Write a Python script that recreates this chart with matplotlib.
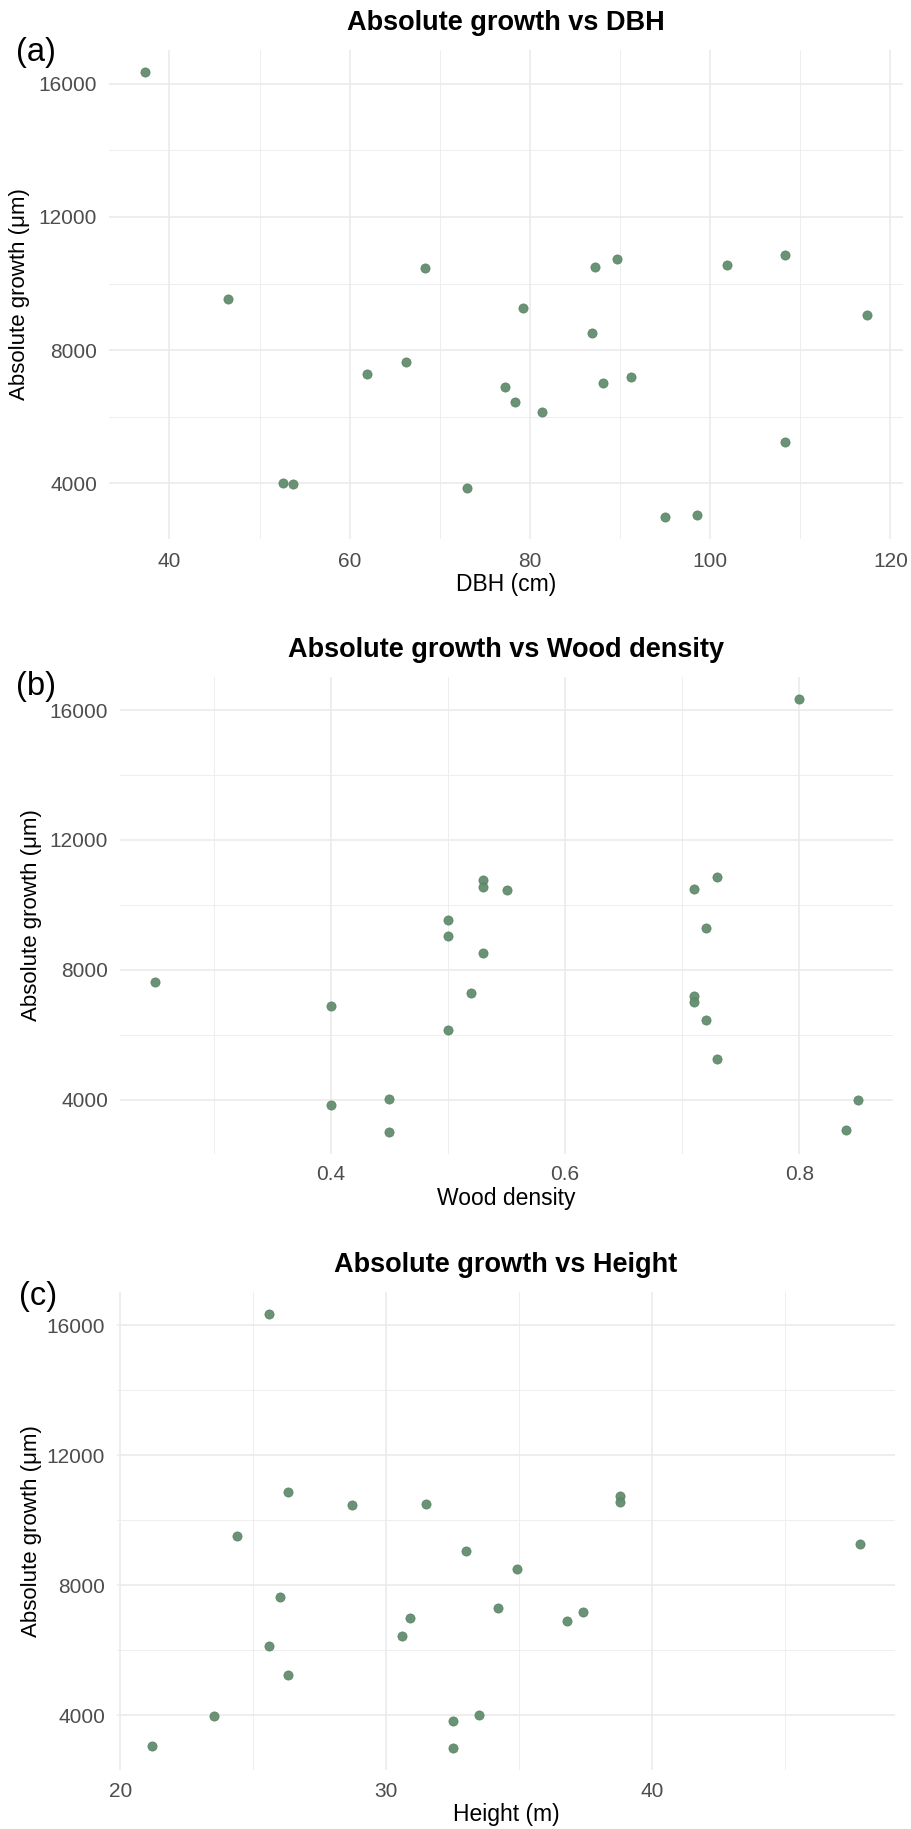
import matplotlib
matplotlib.use("Agg")
import matplotlib.pyplot as plt
from matplotlib.ticker import MultipleLocator

plt.rcParams['font.family'] = ['Liberation Sans', 'DejaVu Sans']

# one entry per tree
growth = [16350, 10860, 10750, 10550, 10500, 10470, 9530, 9270, 9050, 8510, 7630, 7290,
          7190, 7000, 6890, 6440, 6140, 5240, 4020, 3980, 3840, 3050, 2990]
dbh = [37.3, 108.3, 89.7, 101.9, 87.2, 68.4, 46.5, 79.2, 117.4, 86.9, 66.3, 61.9,
       91.2, 88.1, 77.2, 78.3, 81.4, 108.3, 52.6, 53.7, 73.0, 98.6, 95.0]
wood_density = [0.80, 0.73, 0.53, 0.53, 0.71, 0.55, 0.50, 0.72, 0.50, 0.53, 0.25, 0.52,
                0.71, 0.71, 0.40, 0.72, 0.50, 0.73, 0.45, 0.85, 0.40, 0.84, 0.45]
height = [25.6, 26.3, 38.8, 38.8, 31.5, 28.7, 24.4, 47.8, 33.0, 34.9, 26.0, 34.2,
          37.4, 30.9, 36.8, 30.6, 25.6, 26.3, 33.5, 23.5, 32.5, 21.2, 32.5]

W, H = 912, 1829
fig = plt.figure(figsize=(W / 100, H / 100), dpi=100, facecolor="white")

GRID = "#ebebeb"
PT = "#628d6e"


def panel(box, x, xlabel, title, tag, tag_xy, xmaj, xmin, ylab_x, title_y, xlab_y, tick_y):
    l, t, r, b = box
    ax = fig.add_axes([l / W, 1 - b / H, (r - l) / W, (b - t) / H])
    ax.scatter(x, growth, s=44, color=PT, edgecolors="#567f62", linewidths=0.5,
               alpha=0.95, zorder=3)
    pad_x = (max(x) - min(x)) * 0.05
    ax.set_xlim(min(x) - pad_x, max(x) + pad_x)
    pad_y = (max(growth) - min(growth)) * 0.05
    ax.set_ylim(min(growth) - pad_y, max(growth) + pad_y)

    ax.xaxis.set_major_locator(MultipleLocator(xmaj))
    ax.xaxis.set_minor_locator(MultipleLocator(xmin))
    ax.yaxis.set_major_locator(MultipleLocator(4000))
    ax.yaxis.set_minor_locator(MultipleLocator(2000))
    ax.grid(which="major", color=GRID, linewidth=1.2, zorder=0)
    ax.grid(which="minor", color=GRID, linewidth=0.6, zorder=0)
    ax.set_axisbelow(True)
    for s in ax.spines.values():
        s.set_visible(False)
    ax.tick_params(which="both", length=0, labelsize=15, labelcolor="#4d4d4d")
    ax.tick_params(axis="y", pad=8.5)
    ax.tick_params(axis="x", pad=(tick_y - b - 7.5) / 1.389)

    ax.set_xlabel(xlabel, fontsize=16.5, color="black")
    ax.set_ylabel("Absolute growth (\u03bcm)", fontsize=16, color="black")
    ax.xaxis.label.set_va("center")
    ax.yaxis.label.set_va("center")
    ax.xaxis.set_label_coords(0.5, 1 - (xlab_y - t) / (b - t))
    ax.yaxis.set_label_coords((ylab_x - l) / (r - l), 0.5)

    ax.set_title(title, fontsize=19.5, fontweight="bold", va="center", pad=0,
                 y=1 + (t - title_y) / (b - t))
    fig.text(tag_xy[0] / W, 1 - tag_xy[1] / H, tag, fontsize=23.5, ha="left", va="center")
    return ax


panel((109, 50, 903, 539), dbh, "DBH (cm)", "Absolute growth vs DBH", "(a)", (16, 52),
      20, 10, 20, 23, 585, 560)
panel((120, 677, 893, 1154), wood_density, "Wood density", "Absolute growth vs Wood density",
      "(b)", (16, 687), 0.2, 0.1, 32, 650, 1199, 1173)
panel((117, 1292, 895, 1770), height, "Height (m)", "Absolute growth vs Height", "(c)",
      (19, 1297), 10, 5, 31, 1265, 1815, 1790)

fig.savefig("out.png", dpi=100, facecolor="white")
